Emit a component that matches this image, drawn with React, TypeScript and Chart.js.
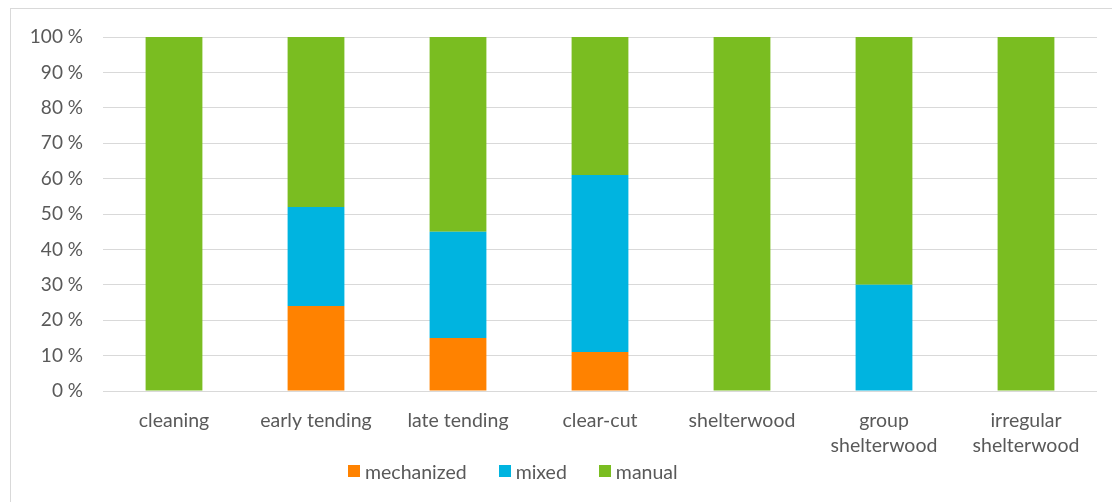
import React, { useEffect, useRef } from "react";
import { Chart, registerables } from "chart.js";

Chart.register(...registerables);

const categories: (string | string[])[] = [
  "cleaning",
  "early tending",
  "late tending",
  "clear-cut",
  "shelterwood",
  ["group", "shelterwood"],
  ["irregular", "shelterwood"],
];

const mechanized = [0, 24, 15, 11, 0, 0, 0];
const mixed = [0, 28, 30, 50, 0, 30, 0];
const manual = [100, 48, 55, 39, 100, 70, 100];

const seriesNames = ["mechanized", "mixed", "manual"];
const seriesColors = ["#ff8200", "#00b4e0", "#7abd21"];

const yTicks = [0, 10, 20, 30, 40, 50, 60, 70, 80, 90, 100];

const FONT = "Lato";
const TEXT = "#595959";
const LABEL_SIZE = 19.5;

export default function App() {
  const canvasRef = useRef<HTMLCanvasElement | null>(null);

  useEffect(() => {
    const canvas = canvasRef.current;
    if (!canvas) return;
    const values = [mechanized, mixed, manual];
    const chart = new Chart(canvas, {
      type: "bar",
      data: {
        labels: categories,
        datasets: seriesNames.map((name, i) => ({
          label: name,
          data: values[i],
          backgroundColor: seriesColors[i],
          borderWidth: 0,
          barPercentage: 0.4,
          categoryPercentage: 1,
        })),
      },
      options: {
        responsive: false,
        animation: false,
        layout: { padding: { top: 28, right: 15, bottom: 33, left: 0 } },
        plugins: {
          legend: { display: false },
          tooltip: { enabled: false },
        },
        scales: {
          x: {
            stacked: true,
            grid: { display: false, drawTicks: false },
            border: { display: false },
            ticks: {
              color: TEXT,
              padding: 17,
              font: { family: FONT, size: LABEL_SIZE, lineHeight: 25 / LABEL_SIZE },
              maxRotation: 0,
              autoSkip: false,
            },
            afterFit: (scale: any) => {
              scale.height = 78;
              scale.paddingLeft = 0;
              scale.paddingRight = 0;
            },
          },
          y: {
            stacked: true,
            min: 0,
            max: 100,
            grid: { color: "#d9d9d9", lineWidth: 1, drawTicks: false },
            border: { display: false },
            afterBuildTicks: (scale: any) => {
              scale.ticks = yTicks.map((v) => ({ value: v }));
            },
            ticks: {
              color: TEXT,
              padding: 20,
              font: { family: FONT, size: 19 },
              callback: (v: any) => `${v} %`,
            },
            afterFit: (scale: any) => {
              scale.width = 92;
              scale.paddingTop = 0;
              scale.paddingBottom = 0;
            },
          },
        },
      },
    });
    return () => chart.destroy();
  }, []);

  return (
    <div
      style={{
        position: "fixed",
        left: 10,
        top: 8,
        width: 1102,
        height: 494,
        overflow: "hidden",
        background: "#fff",
      }}
    >
      <div
        style={{
          position: "absolute",
          left: 0,
          top: 0,
          width: 1200,
          height: 600,
          border: "1px solid #d9d9d9",
          boxSizing: "border-box",
        }}
      />
      <canvas
        ref={canvasRef}
        width={1101}
        height={493}
        style={{ position: "absolute", left: 1, top: 1, display: "block" }}
      />
      <div
        style={{
          position: "absolute",
          left: 338,
          top: 452,
          height: 22,
          display: "flex",
          alignItems: "center",
          fontFamily: FONT,
          fontSize: LABEL_SIZE,
          color: TEXT,
          whiteSpace: "nowrap",
        }}
      >
        {seriesNames.map((name, i) => (
          <div
            key={name}
            style={{
              display: "flex",
              alignItems: "center",
              marginRight: i < seriesNames.length - 1 ? 32 : 0,
            }}
          >
            <span
              style={{
                display: "inline-block",
                width: 12,
                height: 12,
                background: seriesColors[i],
                marginRight: 5,
              }}
            />
            <span>{name}</span>
          </div>
        ))}
      </div>
    </div>
  );
}
